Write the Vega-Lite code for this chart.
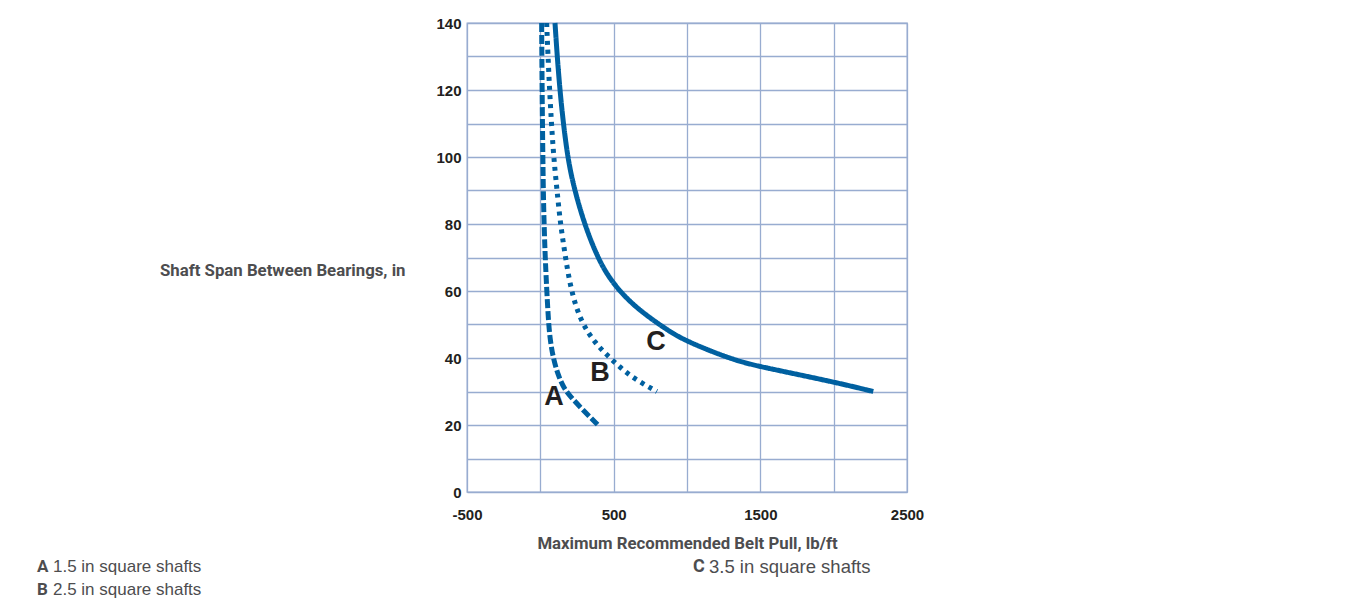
{
  "$schema": "https://vega.github.io/schema/vega-lite/v6.json",
  "autosize": {"type": "none"},
  "padding": {"left": 467, "top": 23, "right": 441, "bottom": 107},
  "width": 440,
  "height": 469,
  "background": "white",
  "config": {
    "view": {"stroke": "#98acd0", "strokeWidth": 1.3},
    "axis": {
      "domain": false,
      "ticks": false,
      "labelFlush": false,
      "labelOverlap": false,
      "gridColor": "#98acd0",
      "gridWidth": 1.3,
      "gridOpacity": 1,
      "labelFont": "Liberation Sans",
      "labelFontWeight": "bold",
      "labelFontSize": 15,
      "labelColor": "#231f20",
      "titleFont": "Roboto",
      "titleFontWeight": "bold",
      "titleFontSize": 16.8,
      "titleColor": "#4d4d4f"
    }
  },
  "datasets": {
    "curves": [
      {"series": "A", "pull": 9, "span": 140},
      {"series": "A", "pull": 12, "span": 120},
      {"series": "A", "pull": 17, "span": 100},
      {"series": "A", "pull": 22, "span": 85},
      {"series": "A", "pull": 32, "span": 71},
      {"series": "A", "pull": 43, "span": 61},
      {"series": "A", "pull": 55, "span": 51},
      {"series": "A", "pull": 68, "span": 45},
      {"series": "A", "pull": 88, "span": 40},
      {"series": "A", "pull": 120, "span": 35},
      {"series": "A", "pull": 160, "span": 31},
      {"series": "A", "pull": 205, "span": 28.5},
      {"series": "A", "pull": 290, "span": 24.5},
      {"series": "A", "pull": 393, "span": 20},
      {"series": "B", "pull": 43, "span": 140},
      {"series": "B", "pull": 61, "span": 121},
      {"series": "B", "pull": 88, "span": 101},
      {"series": "B", "pull": 112, "span": 91},
      {"series": "B", "pull": 134, "span": 81},
      {"series": "B", "pull": 168, "span": 71},
      {"series": "B", "pull": 205, "span": 61},
      {"series": "B", "pull": 270, "span": 51.3},
      {"series": "B", "pull": 373, "span": 44.4},
      {"series": "B", "pull": 475, "span": 40},
      {"series": "B", "pull": 589, "span": 35.4},
      {"series": "B", "pull": 700, "span": 32.3},
      {"series": "B", "pull": 795, "span": 30},
      {"series": "C", "pull": 100, "span": 140},
      {"series": "C", "pull": 129, "span": 121},
      {"series": "C", "pull": 180, "span": 101},
      {"series": "C", "pull": 228, "span": 91},
      {"series": "C", "pull": 300, "span": 80},
      {"series": "C", "pull": 390, "span": 70},
      {"series": "C", "pull": 480, "span": 63},
      {"series": "C", "pull": 634, "span": 55.5},
      {"series": "C", "pull": 862, "span": 48.4},
      {"series": "C", "pull": 998, "span": 44.9},
      {"series": "C", "pull": 1316, "span": 39.4},
      {"series": "C", "pull": 1498, "span": 37.4},
      {"series": "C", "pull": 1998, "span": 32.9},
      {"series": "C", "pull": 2270, "span": 30}
    ],
    "labels": [
      {"series": "A", "pull": 93, "span": 28.4},
      {"series": "B", "pull": 407, "span": 35.5},
      {"series": "C", "pull": 789, "span": 44.8}
    ],
    "notes": [
      {"key": "A", "note": "1.5 in square shafts", "pull": -3432, "span": -22.4},
      {"key": "B", "note": "2.5 in square shafts", "pull": -3432, "span": -29.3},
      {"key": "C", "note": "3.5 in square shafts", "pull": 1041, "span": -22.4}
    ]
  },
  "encoding": {
    "x": {
      "field": "pull",
      "type": "quantitative",
      "scale": {"domain": [-500, 2500], "nice": false, "zero": false},
      "axis": {
        "values": [-500, 0, 500, 1000, 1500, 2000, 2500],
        "labelExpr": "(datum.value + 500) % 1000 == 0 ? '' + datum.value : ''",
        "labelPadding": 15,
        "titlePadding": 13,
        "title": "Maximum Recommended Belt Pull, lb/ft"
      }
    },
    "y": {
      "field": "span",
      "type": "quantitative",
      "scale": {"domain": [0, 140], "nice": false},
      "axis": {
        "values": [0, 10, 20, 30, 40, 50, 60, 70, 80, 90, 100, 110, 120, 130, 140],
        "labelExpr": "datum.value % 20 == 0 ? datum.label : ''",
        "labelPadding": 6,
        "title": "Shaft Span Between Bearings, in",
        "titleAngle": 0,
        "titleAlign": "right",
        "titleBaseline": "middle",
        "titleX": -62,
        "titleY": 247
      }
    }
  },
  "layer": [
    {
      "data": {"name": "curves"},
      "mark": {"type": "line", "strokeWidth": 5, "color": "#0060a0", "interpolate": "basis", "strokeCap": "butt"},
      "encoding": {
        "detail": {"field": "series"},
        "strokeDash": {
          "field": "series",
          "type": "nominal",
          "scale": {"domain": ["A", "B", "C"], "range": [[9, 3], [4, 5], [1, 0]]},
          "legend": null
        }
      }
    },
    {
      "data": {"name": "labels"},
      "mark": {"type": "text", "font": "Liberation Sans", "fontWeight": "bold", "fontSize": 27, "color": "#231f20", "baseline": "middle", "align": "center"},
      "encoding": {"text": {"field": "series"}}
    },
    {
      "data": {"name": "notes"},
      "mark": {"type": "text", "font": "Roboto", "fontWeight": "bold", "color": "#4d4d4f", "baseline": "middle", "align": "left", "clip": false},
      "encoding": {
        "text": {"field": "key"},
        "size": {"condition": {"test": "datum.key == 'C'", "value": 18}, "value": 17}
      }
    },
    {
      "data": {"name": "notes"},
      "mark": {"type": "text", "font": "Liberation Sans", "color": "#4d4d4f", "baseline": "middle", "align": "left", "dx": 16, "clip": false},
      "encoding": {
        "text": {"field": "note"},
        "size": {"condition": {"test": "datum.key == 'C'", "value": 18.5}, "value": 17}
      }
    }
  ]
}
